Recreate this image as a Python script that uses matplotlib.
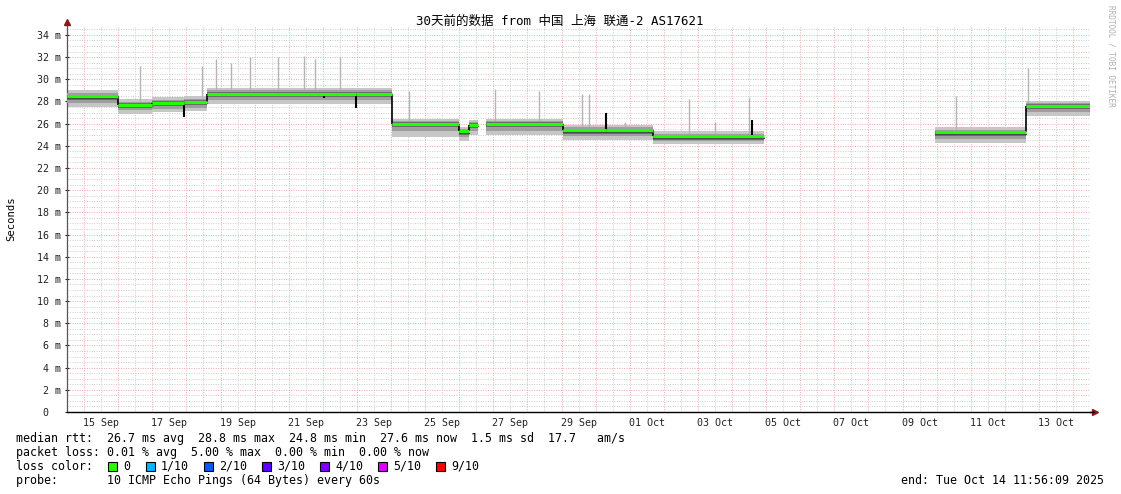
import datetime as dt

import matplotlib
matplotlib.use("Agg")
import matplotlib.pyplot as plt
from matplotlib.patches import Rectangle

W, H = 1121, 494
MONO = "DejaVu Sans Mono"

# ---- data (median rtt in ms, smoke bands per segment) ----
t_first = "2025-09-14 11:56:09"
t_last = "2025-10-14 11:56:09"

seg_start = ["2025-09-14 11:56", "2025-09-15 23:35", "2025-09-17 00:00", "2025-09-17 22:00",
             "2025-09-18 14:35", "2025-09-22 23:25", "2025-09-24 00:25", "2025-09-25 23:30",
             "2025-09-26 07:00", "2025-09-26 18:55", "2025-09-29 01:10", "2025-09-30 07:25",
             "2025-10-01 16:30", "2025-10-09 23:00", "2025-10-12 15:00"]
seg_end = ["2025-09-15 23:35", "2025-09-17 00:00", "2025-09-17 22:00", "2025-09-18 14:35",
           "2025-09-22 23:25", "2025-09-24 00:25", "2025-09-25 23:30", "2025-09-26 07:00",
           "2025-09-26 13:15", "2025-09-29 01:10", "2025-09-30 07:25", "2025-10-01 16:30",
           "2025-10-04 22:35", "2025-10-12 15:00", "2025-10-14 11:56"]
median = [28.45, 27.7, 27.9, 27.95, 28.7, 28.7, 25.95, 25.3, 25.9,
          25.95, 25.4, 25.4, 24.85, 25.2, 27.6]
smoke_hi = [29.0, 28.2, 28.4, 28.45, 29.25, 29.25, 26.4, 25.7, 26.35,
            26.45, 25.85, 25.85, 25.3, 25.65, 28.05]
smoke_lo = [27.5, 26.9, 27.05, 27.1, 27.8, 27.8, 24.8, 24.4, 25.0,
            25.0, 24.5, 24.5, 24.15, 24.25, 26.7]
mid_hi = [28.75, 27.95, 28.15, 28.2, 29.0, 29.0, 26.2, 25.5, 26.15,
          26.2, 25.65, 25.65, 25.1, 25.45, 27.85]
mid_lo = [27.9, 27.2, 27.35, 27.45, 28.15, 28.15, 25.3, 24.8, 25.35,
          25.35, 24.85, 24.85, 24.4, 24.65, 27.05]
inner_hi = [28.6, 27.85, 28.05, 28.1, 28.85, 28.85, 26.1, 25.45, 26.05,
            26.1, 25.55, 25.55, 25.0, 25.35, 27.75]
inner_lo = [28.15, 27.4, 27.6, 27.65, 28.4, 28.4, 25.65, 25.0, 25.6,
            25.65, 25.1, 25.1, 24.55, 24.9, 27.3]

# single pings well above the smoke
spike_time = ["2025-09-16 15:25", "2025-09-18 11:03", "2025-09-18 20:54", "2025-09-19 07:28",
              "2025-09-19 20:50", "2025-09-20 16:32", "2025-09-21 10:51", "2025-09-21 18:35",
              "2025-09-22 12:10", "2025-09-24 12:45", "2025-09-27 01:16", "2025-09-28 08:14",
              "2025-09-29 14:30", "2025-09-29 19:25", "2025-09-30 20:46", "2025-10-02 17:48",
              "2025-10-03 12:06", "2025-10-04 12:01", "2025-10-10 13:43", "2025-10-12 16:24"]
spike_peak = [31.2, 31.2, 31.8, 31.5, 32.0, 32.0, 32.1, 31.8, 32.0, 28.9,
              29.1, 28.9, 28.7, 28.7, 26.1, 28.2, 26.1, 28.4, 28.5, 31.0]

# short excursions of the median itself
dip_time = ["2025-09-17 22:00", "2025-09-22 00:55", "2025-09-22 23:25",
            "2025-09-30 07:25", "2025-10-04 14:10"]
dip_base = [27.9, 28.7, 28.7, 25.4, 24.85]
dip_value = [26.6, 28.35, 27.4, 27.0, 26.3]

tick_days = ["2025-09-15", "2025-09-17", "2025-09-19", "2025-09-21", "2025-09-23",
             "2025-09-25", "2025-09-27", "2025-09-29", "2025-10-01", "2025-10-03",
             "2025-10-05", "2025-10-07", "2025-10-09", "2025-10-11", "2025-10-13"]

loss_labels = ["0", "1/10", "2/10", "3/10", "4/10", "5/10", "9/10"]
loss_colors = ["#26ff00", "#00b8ff", "#0059ff", "#5e00ff", "#7e00ff", "#dd00ff", "#ff0000"]


def ts(s):
    fmt = "%Y-%m-%d %H:%M:%S" if s.count(":") == 2 else "%Y-%m-%d %H:%M"
    return dt.datetime.strptime(s, fmt)


def median_at(t):
    for a, b, m in zip(seg_start, seg_end, median):
        if ts(a) <= t <= ts(b):
            return m
    return None


def fx(x):
    return x / W


def fy(y):
    return 1 - y / H


fig = plt.figure(figsize=(W / 100, H / 100), dpi=100)
ax = fig.add_axes([fx(67), fy(412), fx(1090) - fx(67), fy(26) - fy(412)])

t0, t1 = ts(t_first), ts(t_last)
ax.set_xlim(t0, t1)
ax.set_ylim(0, 34.8)

# grid
red = "#f2a8a8"
grey = "#cccccc"
dots = (0, (1, 1.5))
day = dt.datetime(2025, 9, 14, 12)
while day < t1:
    c = red if day.hour == 0 else grey
    ax.axvline(day, color=c, lw=0.7, ls=dots, zorder=0)
    day += dt.timedelta(hours=12)
for i in range(1, 70):
    v = i * 0.5
    c = red if i % 4 == 0 else grey
    ax.axhline(v, color=c, lw=0.7, ls=dots, zorder=0)

# smoke
for i in range(len(median)):
    xs = [ts(seg_start[i]), ts(seg_end[i])]
    ax.fill_between(xs, smoke_lo[i], smoke_hi[i], color="#c6c6c6", lw=0, zorder=2)
    ax.fill_between(xs, mid_lo[i], mid_hi[i], color="#9e9e9e", lw=0, zorder=3)
    ax.fill_between(xs, inner_lo[i], inner_hi[i], color="#707070", lw=0, zorder=4)

# spikes
for t, p in zip(spike_time, spike_peak):
    tt = ts(t)
    ax.vlines(tt, median_at(tt), p, color="#b4b4b4", lw=1, zorder=2.5)

# median: black connectors, green on top
for i in range(len(median) - 1):
    if seg_end[i] == seg_start[i + 1]:
        tt = ts(seg_end[i])
        ax.vlines(tt, median[i], median[i + 1], color="black", lw=1.2, zorder=5)
for t, b, v in zip(dip_time, dip_base, dip_value):
    ax.vlines(ts(t), b, v, color="black", lw=1.5, zorder=5)
for i in range(len(median)):
    xs = [ts(seg_start[i]), ts(seg_end[i])]
    ax.plot(xs, [median[i] - 0.12, median[i] - 0.12], color="#484848", lw=0.9, zorder=5)
    ax.plot(xs, [median[i], median[i]], color="#22ff00", lw=2.2, zorder=6,
            solid_capstyle="butt")

# axes
for s in ["top", "right"]:
    ax.spines[s].set_visible(False)
ax.spines["left"].set_color("#555555")
ax.spines["bottom"].set_color("black")
ax.spines["left"].set_linewidth(0.9)
ax.spines["bottom"].set_linewidth(1.0)

yt = list(range(0, 35, 2))
ax.set_yticks(yt)
ax.set_yticklabels(["%d m" % v if v else "0  " for v in yt], fontfamily=MONO, fontsize=7.2)
ax.tick_params(axis="y", length=3, direction="inout", width=0.8, pad=3, colors="#222222")
xt = [ts(d + " 12:00") for d in tick_days]
ax.set_xticks(xt)
ax.set_xticklabels([d.strftime("%d %b") for d in xt], fontfamily=MONO, fontsize=7.2)
ax.tick_params(axis="x", length=0, pad=4, colors="#222222")

ax.plot([0], [1.01], marker="^", color="#8b1a1a", ms=4, transform=ax.transAxes, clip_on=False)
ax.plot([1.005], [0], marker=">", color="#8b1a1a", ms=4, transform=ax.transAxes, clip_on=False)
ax.plot([1.0, 1.004], [0, 0], color="black", lw=1, transform=ax.transAxes, clip_on=False)

# texts
fig.text(fx(560), fy(21), "30天前的数据 from 中国 上海 联通-2 AS17621",
         family=[MONO, "Noto Sans CJK SC"], fontsize=9, ha="center", va="center")
fig.text(fx(11), fy(219), "Seconds", family=MONO, fontsize=7.6, rotation=90,
         ha="center", va="center")
fig.text(fx(1111), fy(5), "RRDTOOL / TOBI OETIKER", family=MONO, fontsize=5.6,
         rotation=270, ha="center", va="top", color="#b0b0b0")

fs = 8.4
fig.text(fx(16), fy(438), "median rtt:  26.7 ms avg  28.8 ms max  24.8 ms min  27.6 ms now  "
         "1.5 ms sd  17.7   am/s", family=MONO, fontsize=fs, va="center")
fig.text(fx(16), fy(452), "packet loss: 0.01 % avg  5.00 % max  0.00 % min  0.00 % now",
         family=MONO, fontsize=fs, va="center")
fig.text(fx(16), fy(466), "loss color:", family=MONO, fontsize=fs, va="center")
box_x = [108, 146, 204, 262, 320, 378, 436]
for bx, lab, col in zip(box_x, loss_labels, loss_colors):
    fig.add_artist(Rectangle((fx(bx), fy(470.5)), 8.5 / W, 9 / H, transform=fig.transFigure,
                             facecolor=col, edgecolor="black", lw=0.8))
    fig.text(fx(bx + 15), fy(466), lab, family=MONO, fontsize=fs, va="center")
fig.text(fx(16), fy(480), "probe:       10 ICMP Echo Pings (64 Bytes) every 60s",
         family=MONO, fontsize=fs, va="center")
fig.text(fx(1104), fy(480), "end: Tue Oct 14 11:56:09 2025", family=MONO, fontsize=fs,
         va="center", ha="right")

fig.savefig("out.png", dpi=100, facecolor="white")
